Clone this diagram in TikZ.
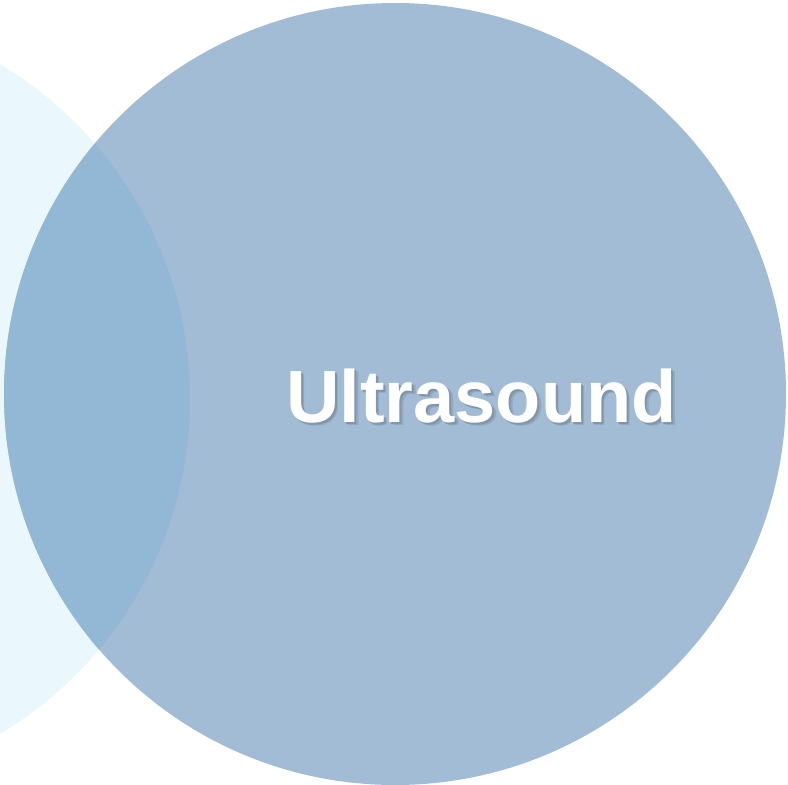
\documentclass[tikz,border=0pt]{standalone}
\usepackage{fontspec}
\setmainfont{Liberation Sans}
\definecolor{bigc}{HTML}{A2BCD5}
\definecolor{lightc}{HTML}{EAF7FD}
\definecolor{overc}{HTML}{93B8D5}
\colorlet{shadowa}{bigc!80!black}
\colorlet{shadowb}{bigc!90!black}
\newcommand{\shadowedtext}[1]{%
  \makebox[0pt][l]{\hspace{3.5pt}\raisebox{-3.5pt}{\textcolor{shadowb}{#1}}}%
  \makebox[0pt][l]{\hspace{2pt}\raisebox{-2pt}{\textcolor{shadowa}{#1}}}%
  \textcolor{white}{#1}}
\begin{document}
\begin{tikzpicture}[x=1pt,y=-1pt,
  label text/.style={font=\fontsize{74}{80}\selectfont\bfseries, anchor=base, inner sep=0pt}]
\useasboundingbox (0,0) rectangle (788,785);
\fill[white] (0,0) rectangle (788,785);
\begin{scope}
\clip (0,0) rectangle (788,785);
\fill[lightc] (-200,399) circle[radius=390];
\fill[bigc] (395,394) circle[radius=391];
\begin{scope}
\clip (-200,399) circle[radius=390];
\fill[overc] (395,394) circle[radius=391];
\end{scope}
\end{scope}
\node[label text] (title) at (481.5,422) {\shadowedtext{Ultrasound}};
\end{tikzpicture}
\end{document}
